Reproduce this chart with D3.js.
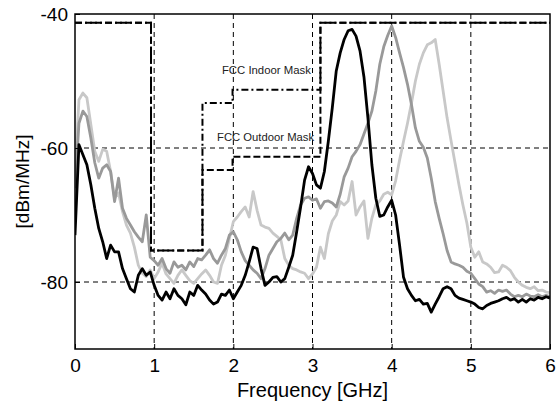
<!DOCTYPE html>
<html><head><meta charset="utf-8">
<script src="https://cdn.jsdelivr.net/npm/d3@7"></script>
<style>body{margin:0;background:#fff}svg{display:block}text{font-family:"Liberation Sans",Arial,sans-serif}</style>
</head><body><svg id="c" width="558" height="404"></svg>
<script>
const freq = [0,0.05,0.1,0.15,0.2,0.25,0.3,0.35,0.4,0.45,0.5,0.55,0.6,0.65,0.7,0.75,0.8,0.85,0.9,0.95,
1,1.05,1.1,1.15,1.2,1.25,1.3,1.35,1.4,1.45,1.5,1.55,1.6,1.65,1.7,1.75,1.8,1.85,1.9,1.95,
2,2.05,2.1,2.15,2.2,2.25,2.3,2.35,2.4,2.45,2.5,2.55,2.6,2.65,2.7,2.75,2.8,2.85,2.9,2.95,
3,3.05,3.1,3.15,3.2,3.25,3.3,3.35,3.4,3.45,3.5,3.55,3.6,3.65,3.7,3.75,3.8,3.85,3.9,3.95,
4,4.05,4.1,4.15,4.2,4.25,4.3,4.35,4.4,4.45,4.5,4.55,4.6,4.65,4.7,4.75,4.8,4.85,4.9,4.95,
5,5.05,5.1,5.15,5.2,5.25,5.3,5.35,5.4,5.45,5.5,5.55,5.6,5.65,5.7,5.75,5.8,5.85,5.9,5.95,6];

const blackSeries = [-73,-59.5,-61,-62.5,-65.5,-69,-72,-74,-76.5,-74.5,-75.5,-75.5,-78,-79.5,-81,-81.5,-79,-78,-79,-78.5,
-80.5,-82,-82.7,-81.5,-82.5,-81,-82,-82.5,-83.4,-81.5,-82,-80.5,-81.2,-81.8,-82.7,-83.3,-83,-81.8,-82,-81.2,
-82.5,-81.5,-80.5,-79,-77,-74.8,-75,-78,-80.5,-80,-79.3,-79.2,-80,-79.5,-77.8,-76,-72.5,-68.8,-64.8,-62.8,
-63.8,-65.5,-66,-63.5,-59,-54,-48.5,-45.8,-43.8,-42.5,-42.3,-43.3,-45.5,-49.4,-55.5,-62.5,-67.5,-70.2,-70,-68.8,
-67.8,-70,-74.5,-79.3,-81,-82,-82.8,-82.6,-83.3,-83.2,-84.5,-83.3,-82.2,-81,-80.7,-81,-82,-82.4,-82.6,-82.8,
-83,-83.3,-83.8,-84,-83.5,-83.2,-83,-82.8,-82.5,-82.3,-82.7,-82.5,-83,-82.6,-83,-82.5,-82.7,-82.3,-82.5,-82.2,-82.4];

const midGraySeries = [-66,-56.3,-54.5,-55.3,-58.5,-62.2,-64.5,-63,-62.5,-63.5,-68,-64.5,-69,-70.5,-71.5,-72.5,-73.3,-74,-70,-76.3,
-76.8,-77.5,-76.5,-78,-78.7,-77,-77.8,-77.5,-78.2,-77,-77.7,-76.5,-76.7,-76,-75.2,-76.5,-77.2,-76,-75,-73,
-72.5,-73.7,-75.5,-76.8,-77.5,-78.2,-78.7,-79.5,-78,-76,-75,-74,-73.5,-72.7,-73.7,-73,-70.5,-68.5,-67.5,-67.3,
-67.8,-67.6,-69,-68,-67.9,-68.2,-68.8,-66.9,-64.3,-63,-61.3,-60.5,-59.5,-57.9,-56.3,-54.5,-51.5,-47.5,-44.9,-43.2,
-41.8,-43.5,-45.8,-48,-50.5,-53.5,-57,-59,-59.9,-61.5,-64.5,-68,-70.5,-72.8,-75.3,-77,-77.3,-77.5,-77.8,-78.4,
-78.7,-79.5,-80.3,-80.7,-81.5,-81.3,-81.7,-81.2,-81.4,-81.2,-81.8,-82.2,-82,-82.2,-81.8,-82.1,-82.2,-81.9,-82.2,-82,-82.2];

const lightGraySeries = [-64,-52.8,-51.8,-52.5,-56.5,-60.5,-62,-60.2,-60.5,-63.5,-67.5,-66.7,-69.5,-71.5,-72.7,-74.8,-77.5,-78.7,-79.2,-78.2,
-79.5,-78.5,-77.2,-78.8,-79.5,-80.2,-79,-78.2,-79,-79.8,-80.2,-79.5,-78.8,-78.2,-79,-80,-80.2,-77.5,-76,-73.5,
-71,-70.3,-69.5,-68.8,-70.3,-66.5,-69.3,-71.5,-71.8,-72,-72.7,-73.2,-73.7,-76.5,-77.5,-78,-78.2,-78.5,-78.7,-79.5,
-78.8,-77.8,-74.8,-76.5,-72.8,-70.9,-70,-68,-68.5,-67.9,-65,-70,-68.8,-67.9,-73.5,-70.5,-68.5,-67.9,-66.9,-66.6,
-67,-64.9,-61.8,-59,-56.3,-53.3,-50,-47.5,-45.8,-44.6,-44.3,-43.8,-47.5,-51.5,-55.5,-58.9,-62.2,-65.5,-68.5,-71.2,
-74.8,-76.3,-75.5,-77,-77.3,-77.8,-78.6,-78.5,-77.5,-77.8,-78.3,-79.3,-80,-80.5,-80.8,-81,-80.7,-81.3,-81.2,-81.5,-81.6];

// FCC masks (step edges, GHz / dBm/MHz)
const indoorMaskF = [0, 0.96, 0.96, 1.61, 1.61, 1.99, 1.99, 3.1, 3.1, 6];
const indoorMaskV = [-41.3, -41.3, -75.3, -75.3, -53.3, -53.3, -51.3, -51.3, -41.3, -41.3];
const outdoorMaskF = [0, 0.96, 0.96, 1.61, 1.61, 1.99, 1.99, 3.1, 3.1, 6];
const outdoorMaskV = [-41.3, -41.3, -75.3, -75.3, -63.3, -63.3, -61.3, -61.3, -41.3, -41.3];

const xTicks = [0,1,2,3,4,5,6];
const yTicks = [-40,-60,-80];
const xDomain = [0,6];
const yDomain = [-90,-40];

const svg = d3.select("#c");
const m = {l:75, r:550, t:14, b:349};
const x = d3.scaleLinear().domain(xDomain).range([m.l, m.r]);
const y = d3.scaleLinear().domain(yDomain).range([m.b, m.t]);

svg.append("defs").append("clipPath").attr("id","clip")
  .append("rect").attr("x",m.l).attr("y",m.t).attr("width",m.r-m.l).attr("height",m.b-m.t);

// grid
const grid = svg.append("g").attr("stroke","#000").attr("stroke-width",1).attr("stroke-dasharray","5,4");
grid.selectAll("line.gx").data(xTicks.filter(d=>d>0&&d<6)).join("line")
  .attr("x1",d=>x(d)).attr("x2",d=>x(d)).attr("y1",m.t).attr("y2",m.b);
grid.selectAll("line.gy").data(yTicks.filter(d=>d>-90&&d<-40)).join("line")
  .attr("x1",m.l).attr("x2",m.r).attr("y1",d=>y(d)).attr("y2",d=>y(d));

const line = d3.line().x(d=>x(d[0])).y(d=>y(d[1]));
const plot = svg.append("g").attr("clip-path","url(#clip)");
const series = [
  {v: lightGraySeries, c:"#c8c8c8"},
  {v: midGraySeries, c:"#999999"},
  {v: blackSeries, c:"#000000"}
];
series.forEach(s=>{
  plot.append("path").datum(freq.map((f,i)=>[f,s.v[i]]))
    .attr("d",line).attr("fill","none").attr("stroke",s.c).attr("stroke-width",2.8)
    .attr("stroke-linejoin","round");
});
const stepLine = d3.line().x(d=>x(d[0])).y(d=>y(d[1]));
plot.append("path").datum(outdoorMaskF.map((f,i)=>[f,outdoorMaskV[i]]))
  .attr("d",stepLine).attr("fill","none").attr("stroke","#000").attr("stroke-width",2)
  .attr("stroke-dasharray","7,3");
plot.append("path").datum(indoorMaskF.map((f,i)=>[f,indoorMaskV[i]]))
  .attr("d",stepLine).attr("fill","none").attr("stroke","#000").attr("stroke-width",2)
  .attr("stroke-dasharray","7,3,2,3");

// mask labels
svg.append("text").attr("x",x(2.98)).attr("y",y(-48.4)+4).attr("text-anchor","end").attr("fill","#222")
  .attr("font-size",11).attr("textLength",89).attr("lengthAdjust","spacingAndGlyphs").text("FCC Indoor Mask");
svg.append("text").attr("x",x(3.02)).attr("y",y(-58.4)+4).attr("text-anchor","end").attr("fill","#222")
  .attr("font-size",11).attr("textLength",97).attr("lengthAdjust","spacingAndGlyphs").text("FCC Outdoor Mask");

// axes box
svg.append("rect").attr("x",m.l).attr("y",m.t).attr("width",m.r-m.l).attr("height",m.b-m.t)
  .attr("fill","none").attr("stroke","#000").attr("stroke-width",1.5);

const xAxis = d3.axisBottom(x).tickValues(xTicks).tickSize(-5).tickPadding(10).tickFormat(d=>String(d));
const gx = svg.append("g").attr("transform",`translate(0,${m.b})`).call(xAxis);
const yAxis = d3.axisLeft(y).tickValues(yTicks).tickSize(-5).tickPadding(7).tickFormat(d=>String(d));
const gy = svg.append("g").attr("transform",`translate(${m.l},0)`).call(yAxis);
[gx,gy].forEach(g=>{
  g.select(".domain").remove();
  g.selectAll("text").attr("font-size",19).attr("font-family","Liberation Sans, Arial, sans-serif").attr("fill","#000");
  g.selectAll(".tick line").attr("stroke","#000");
});
gx.selectAll("text").attr("dy","0.71em");

svg.append("text").attr("x",(m.l+m.r)/2).attr("y",397).attr("text-anchor","middle")
  .attr("font-size",20).text("Frequency [GHz]");
svg.append("text").attr("transform",`translate(29,${(m.t+m.b)/2}) rotate(-90)`).attr("text-anchor","middle")
  .attr("font-size",19).text("[dBm/MHz]");
</script></body></html>
